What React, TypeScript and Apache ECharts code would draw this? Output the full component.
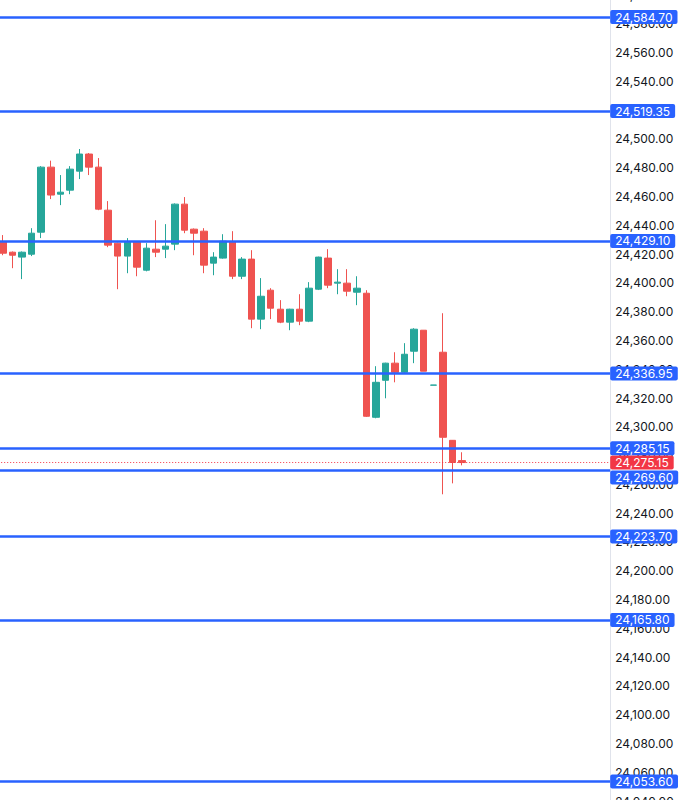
import React, { useEffect, useRef } from 'react';
import * as echarts from 'echarts';

// 64 bar slots on the time axis (49 candles drawn, the rest is empty right margin)
const categories: string[] = Array.from({ length: 64 }, (_, i) => String(i + 1));

const opens = [
  24428.3, 24421.3, 24417.9, 24419.9, 24435.2, 24480.4, 24461.6, 24464.4, 24477.6, 24489.5,
  24480.4, 24450.5, 24427.6, 24418.6, 24428.3, 24408.8, 24423.4, 24423.4, 24426.9, 24454.7,
  24437.3, 24435.9, 24413.7, 24417.2, 24428.3, 24404.6, 24416.5, 24374.8, 24394.9, 24381.7,
  24372.7, 24381.7, 24373.4, 24395.6, 24417.2, 24399.8, 24399.8, 24393.5, 24392.8, 24306.6,
  24332.3, 24344.2, 24337.9, 24352.5, 24367.1, 24328.9, 24351.8, 24290.6, 24276.5,
];
const closes = [
  24420.6, 24419.2, 24421.3, 24434.5, 24480.4, 24461.0, 24463.0, 24479.0, 24489.5, 24480.4,
  24451.2, 24426.2, 24418.6, 24428.3, 24410.9, 24424.1, 24421.3, 24425.5, 24454.7, 24436.6,
  24434.5, 24412.3, 24417.9, 24429.0, 24404.6, 24416.5, 24374.8, 24390.7, 24382.4, 24372.7,
  24381.7, 24373.4, 24396.3, 24417.9, 24398.4, 24400.5, 24394.2, 24396.3, 24307.3, 24330.9,
  24344.2, 24337.9, 24350.4, 24367.8, 24338.6, 24329.0, 24292.7, 24275.2, 24275.15,
];
const lows = [
  24419.2, 24410.2, 24402.6, 24418.6, 24431.1, 24458.2, 24454.0, 24461.6, 24472.1, 24474.9,
  24450.5, 24424.8, 24395.6, 24406.7, 24404.6, 24408.0, 24417.9, 24417.2, 24422.7, 24434.5,
  24419.2, 24406.7, 24405.3, 24416.8, 24402.6, 24402.6, 24368.5, 24367.8, 24374.8, 24372.0,
  24367.1, 24370.6, 24372.7, 24395.0, 24396.3, 24392.1, 24390.7, 24384.5, 24306.8, 24305.9,
  24319.8, 24330.9, 24337.5, 24344.2, 24338.6, 24328.9, 24253.1, 24260.7, 24273.2,
];
const highs = [
  24433.2, 24421.8, 24421.8, 24438.0, 24481.1, 24484.9, 24474.9, 24481.1, 24493.0, 24490.2,
  24486.7, 24456.8, 24428.0, 24431.1, 24428.8, 24427.6, 24443.5, 24440.8, 24455.2, 24459.6,
  24437.8, 24438.0, 24421.3, 24433.8, 24435.9, 24417.9, 24422.7, 24403.3, 24396.3, 24388.0,
  24382.0, 24392.1, 24400.5, 24418.2, 24423.4, 24409.5, 24409.5, 24404.6, 24394.9, 24342.1,
  24344.5, 24351.8, 24358.1, 24368.5, 24367.1, 24329.0, 24378.9, 24290.8, 24282.3,
];

const levels = [24584.7, 24519.35, 24429.1, 24336.95, 24285.15, 24269.6, 24223.7, 24165.8, 24053.6];
const lastPrice = 24275.15;

const yMin = 24040;
const yMax = 24600;
const yStep = 20;

const BLUE = '#2962FF';
const RED = '#F23645';
const UP = '#26A69A';
const DOWN = '#EF5350';
const FONT = 'Inter';

const fmt = (v: number) =>
  Number(v).toLocaleString('en-US', { minimumFractionDigits: 2, maximumFractionDigits: 2 });

export default function App() {
  const ref = useRef<HTMLDivElement>(null);
  useEffect(() => {
    const chart = echarts.init(ref.current!, null, { renderer: 'svg' });
    const data = opens.map((o, i) => [o, closes[i], lows[i], highs[i]]);

    const levelLines = levels.map((v) => ({
      yAxis: v,
      lineStyle: { color: BLUE, width: 2.5, type: 'solid' },
      label: {
        show: true,
        position: 'end',
        distance: 0,
        formatter: () => fmt(v),
        color: '#ffffff',
        backgroundColor: BLUE,
        padding: [1, 5, 1, 5],
        borderRadius: 2,
        fontFamily: FONT,
        fontSize: 12,
        ...(v === 24269.6 ? { verticalAlign: 'top' } : {}),
      },
    }));
    const priceLine = {
      yAxis: lastPrice,
      lineStyle: { color: RED, width: 1, type: [1, 2] },
      label: {
        show: true,
        position: 'end',
        distance: 0,
        formatter: () => fmt(lastPrice),
        color: '#ffffff',
        backgroundColor: RED,
        padding: [1, 5, 1, 5],
        borderRadius: 2,
        fontFamily: FONT,
        fontSize: 12,
      },
    };

    chart.setOption({
      animation: false,
      backgroundColor: '#ffffff',
      grid: {
        left: -1.8,
        right: 70.8,
        top: 0,
        bottom: 0,
        containLabel: false,
        outerBoundsMode: 'none',
      },
      xAxis: {
        type: 'category',
        data: categories,
        boundaryGap: true,
        axisLine: { show: false },
        axisTick: { show: false },
        axisLabel: { show: false },
        splitLine: { show: false },
      },
      yAxis: {
        type: 'value',
        position: 'right',
        min: yMin,
        max: yMax,
        interval: yStep,
        scale: true,
        axisLine: { show: true, lineStyle: { color: '#E0E3EB', width: 1 } },
        axisTick: { show: false },
        splitLine: { show: false },
        axisLabel: {
          show: true,
          margin: 5,
          color: '#131722',
          fontFamily: FONT,
          fontSize: 12,
          showMinLabel: true,
          showMaxLabel: true,
          formatter: (v: number) => fmt(v),
        },
      },
      series: [
        {
          type: 'candlestick',
          data,
          barWidth: 7,
          itemStyle: {
            color: UP,
            color0: DOWN,
            borderColor: UP,
            borderColor0: DOWN,
            borderWidth: 1,
          },
          markLine: {
            silent: true,
            symbol: ['none', 'none'],
            z: 5,
            data: [priceLine, ...levelLines],
          },
        },
      ],
    });
    return () => chart.dispose();
  }, []);
  return (
    <div
      ref={ref}
      style={{ position: 'fixed', left: 0, top: -5, width: 681, height: 806 }}
    />
  );
}
